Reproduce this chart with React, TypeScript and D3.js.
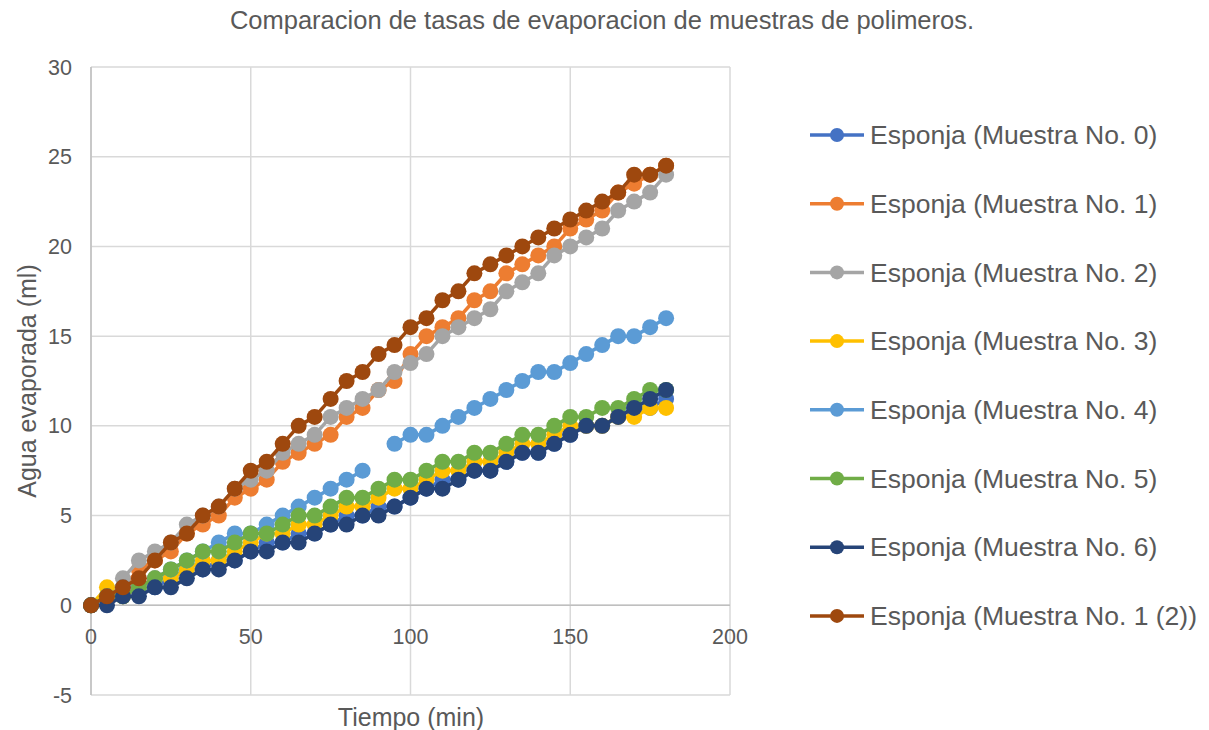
import React from "react";
import * as d3 from "d3";

const times = d3.range(0, 185, 5);

const seriesNames = [
  "Esponja (Muestra No. 0)",
  "Esponja (Muestra No. 1)",
  "Esponja (Muestra No. 2)",
  "Esponja (Muestra No. 3)",
  "Esponja (Muestra No. 4)",
  "Esponja (Muestra No. 5)",
  "Esponja (Muestra No. 6)",
  "Esponja (Muestra No. 1 (2))",
];

const seriesColors = ["#4472C4", "#ED7D31", "#A5A5A5", "#FFC000", "#5B9BD5", "#70AD47", "#264478", "#9E480E"];

const muestra0 = [0, 0.5, 0.5, 1, 1, 1.5, 2, 2, 2.5, 2.5, 3, 3.5, 3.5, 4, 4, 4.5, 5, 5, 5.5, 5.5, 6, 6.5, 7, 7, 7.5, 7.5, 8, 8.5, 8.5, 9, 9.5, 10, 10, 10.5, 11, 11, 11.5];
const muestra1 = [0, 0.5, 1, 2, 2.5, 3, 4, 4.5, 5, 6, 6.5, 7, 8, 8.5, 9, 9.5, 10.5, 11, 12, 12.5, 14, 15, 15.5, 16, 17, 17.5, 18.5, 19, 19.5, 20, 21, 21.5, 22, 23, 23.5, 24, 24.5];
const muestra2 = [0, 0.5, 1.5, 2.5, 3, 3.5, 4.5, 5, 5.5, 6.5, 7, 7.5, 8.5, 9, 9.5, 10.5, 11, 11.5, 12, 13, 13.5, 14, 15, 15.5, 16, 16.5, 17.5, 18, 18.5, 19.5, 20, 20.5, 21, 22, 22.5, 23, 24];
const muestra3 = [0, 1, 0.5, 1, 1.5, 1.5, 2, 2.5, 2.5, 3, 3.5, 4, 4, 4.5, 4.5, 5, 5.5, 5.5, 6, 6.5, 6.5, 7, 7.5, 7.5, 8, 8, 8.5, 9, 9, 9.5, 10, 10, 10, 10.5, 10.5, 11, 11];
const muestra4: (number | null)[] = [0, 0.5, 1, 1, 1.5, 2, 2.5, 3, 3.5, 4, 4, 4.5, 5, 5.5, 6, 6.5, 7, 7.5, null, 9, 9.5, 9.5, 10, 10.5, 11, 11.5, 12, 12.5, 13, 13, 13.5, 14, 14.5, 15, 15, 15.5, 16];
const muestra5 = [0, 0.5, 0.5, 1, 1.5, 2, 2.5, 3, 3, 3.5, 4, 4, 4.5, 5, 5, 5.5, 6, 6, 6.5, 7, 7, 7.5, 8, 8, 8.5, 8.5, 9, 9.5, 9.5, 10, 10.5, 10.5, 11, 11, 11.5, 12, 12];
const muestra6 = [0, 0, 0.5, 0.5, 1, 1, 1.5, 2, 2, 2.5, 3, 3, 3.5, 3.5, 4, 4.5, 4.5, 5, 5, 5.5, 6, 6.5, 6.5, 7, 7.5, 7.5, 8, 8.5, 8.5, 9, 9.5, 10, 10, 10.5, 11, 11.5, 12];
const muestra1b = [0, 0.5, 1, 1.5, 2.5, 3.5, 4, 5, 5.5, 6.5, 7.5, 8, 9, 10, 10.5, 11.5, 12.5, 13, 14, 14.5, 15.5, 16, 17, 17.5, 18.5, 19, 19.5, 20, 20.5, 21, 21.5, 22, 22.5, 23, 24, 24, 24.5];

const allSeries = [muestra0, muestra1, muestra2, muestra3, muestra4, muestra5, muestra6, muestra1b];

const xTicks = [0, 50, 100, 150, 200];
const yTicks = [-5, 0, 5, 10, 15, 20, 25, 30];

const title = "Comparacion de tasas de evaporacion de muestras de polimeros.";
const xTitle = "Tiempo (min)";
const yTitle = "Agua evaporada (ml)";

export default function App() {
  const W = 1209;
  const H = 730;
  const left = 91, right = 730, top = 67, bottom = 695;
  const x = d3.scaleLinear().domain([0, 200]).range([left, right]);
  const y = d3.scaleLinear().domain([-5, 30]).range([bottom, top]);
  const font = "'Liberation Sans', Arial, sans-serif";
  const textColor = "#595959";
  const grid = "#D9D9D9";

  const line = d3
    .line<number | null>()
    .defined((d) => d !== null)
    .x((_, i) => x(times[i]))
    .y((d) => y(d as number));

  const legendY0 = 135;
  const legendStep = 68.7;

  return (
    <svg width={W} height={H} style={{ position: "absolute", left: 0, top: 0, background: "#fff" }} fontFamily={font}>
      <rect x={0} y={0} width={W} height={H} fill="#fff" />
      <text x={602} y={20} dy="0.35em" textAnchor="middle" fontSize={25.5} fill={textColor}>
        {title}
      </text>
      {yTicks.map((t) => (
        <line key={"gy" + t} x1={left} x2={right} y1={y(t)} y2={y(t)} stroke={grid} strokeWidth={1.5} />
      ))}
      {xTicks.map((t) => (
        <line key={"gx" + t} x1={x(t)} x2={x(t)} y1={top} y2={bottom} stroke={grid} strokeWidth={1.5} />
      ))}
      <line x1={left} x2={left} y1={top} y2={bottom} stroke="#BFBFBF" strokeWidth={1.5} />
      <line x1={left} x2={right} y1={y(0)} y2={y(0)} stroke="#BFBFBF" strokeWidth={1.5} />
      {yTicks.map((t) => (
        <text key={"ty" + t} x={72} y={y(t)} dy="0.35em" textAnchor="end" fontSize={21.5} fill={textColor}>
          {t}
        </text>
      ))}
      {xTicks.map((t) => (
        <text key={"tx" + t} x={x(t)} y={y(0) + 31} dy="0.35em" textAnchor="middle" fontSize={21.5} fill={textColor}>
          {t}
        </text>
      ))}
      <text x={411} y={717} dy="0.35em" textAnchor="middle" fontSize={25} fill={textColor}>
        {xTitle}
      </text>
      <text transform={`translate(27,${(top + bottom) / 2}) rotate(-90)`} dy="0.35em" textAnchor="middle" fontSize={25} fill={textColor}>
        {yTitle}
      </text>
      {allSeries.map((s, si) => (
        <g key={"s" + si}>
          <path d={line(s) || ""} fill="none" stroke={seriesColors[si]} strokeWidth={3.5} strokeLinejoin="round" />
          {s.map((v, i) =>
            v === null ? null : <circle key={i} cx={x(times[i])} cy={y(v)} r={8} fill={seriesColors[si]} />
          )}
        </g>
      ))}
      {seriesNames.map((n, i) => {
        const ly = legendY0 + i * legendStep;
        return (
          <g key={"l" + i}>
            <line x1={810} x2={864} y1={ly} y2={ly} stroke={seriesColors[i]} strokeWidth={3.5} />
            <circle cx={837} cy={ly} r={7} fill={seriesColors[i]} />
            <text x={870} y={ly} dy="0.35em" fontSize={26.5} fill={textColor}>
              {n}
            </text>
          </g>
        );
      })}
    </svg>
  );
}
